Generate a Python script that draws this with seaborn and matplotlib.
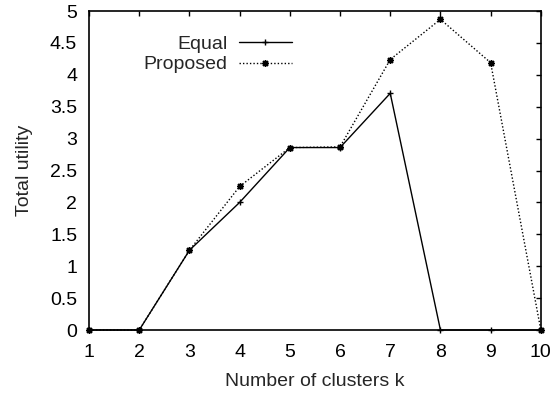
import matplotlib
matplotlib.use("Agg")
import matplotlib.pyplot as plt
import seaborn as sns
import pandas as pd

k = [1, 2, 3, 4, 5, 6, 7, 8, 9, 10]
equal = [0, 0, 1.25, 2.0, 2.86, 2.86, 3.71, 0, 0, 0]
proposed = [0, 0, 1.25, 2.25, 2.86, 2.87, 4.24, 4.87, 4.19, 0]
x_ticks = [1, 2, 3, 4, 5, 6, 7, 8, 9, 10]
y_ticks = [0, 0.5, 1, 1.5, 2, 2.5, 3, 3.5, 4, 4.5, 5]
y_ticklabels = ["0", "0.5", "1", "1.5", "2", "2.5", "3", "3.5", "4", "4.5", "5"]

sns.set_theme(style="white")
plt.rcParams['font.family'] = ['Liberation Sans', 'DejaVu Sans']

df_eq = pd.DataFrame({"k": k, "v": equal})
df_pr = pd.DataFrame({"k": k, "v": proposed})

fig = plt.figure(figsize=(5.53, 3.94), dpi=100)
ax = fig.add_axes([0.161, 0.1624, 0.817, 0.8096])

sns.lineplot(data=df_eq, x="k", y="v", ax=ax, color="black", linewidth=1.0,
             marker="+", markersize=5, markeredgewidth=1.0,
             markeredgecolor="black", markerfacecolor="black",
             label="Equal", clip_on=False, zorder=3)
sns.lineplot(data=df_pr, x="k", y="v", ax=ax, color="black", linewidth=1.0,
             linestyle=(0, (1, 1.5)), marker=(8, 2, 0), markersize=5,
             markeredgewidth=1.0, markeredgecolor="black",
             markerfacecolor="black", label="Proposed", clip_on=False, zorder=3)

ax.set_xlim(1, 10)
ax.set_ylim(0, 5)
ax.set_xticks(x_ticks)
ax.set_xticklabels([str(t) for t in x_ticks])
ax.set_yticks(y_ticks)
ax.set_yticklabels(y_ticklabels)
ax.tick_params(direction="in", length=3.7, width=1, top=True, right=True,
               labelsize=14, colors="black")
ax.tick_params(axis="x", pad=10)
ax.tick_params(axis="y", pad=8.5)
for s in ax.spines.values():
    s.set_color("black")
    s.set_linewidth(1.2)
ax.set_xlabel("Number of clusters k", fontsize=14, labelpad=9)
ax.set_ylabel("Total utility", fontsize=14, labelpad=12)

leg = ax.legend(loc="upper right", bbox_to_anchor=(0.449, 0.925), frameon=False,
                markerfirst=False, fontsize=14, handlelength=2.73,
                labelspacing=0.17, handletextpad=0.6, borderaxespad=0,
                borderpad=0)
for t in leg.get_texts():
    t.set_ha("right")

fig.savefig("out.png", dpi=100)
